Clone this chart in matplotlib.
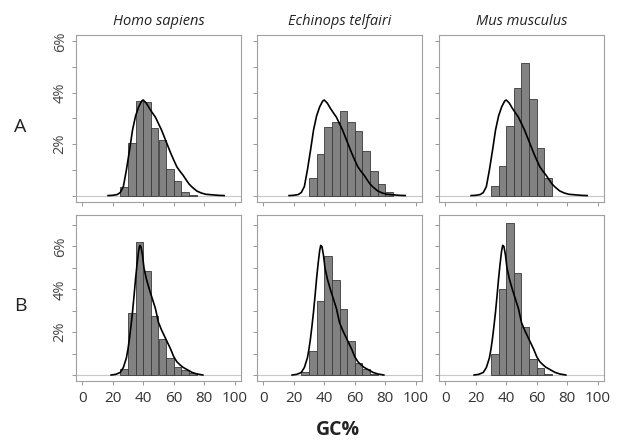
import numpy as np
import matplotlib.pyplot as plt

# species / rows
species = ["Homo sapiens", "Echinops telfairi", "Mus musculus"]
rows = ["A", "B"]
bin_width = 5

# histogram bars, % of genes per 5% GC bin (first bin left edge + heights)
hist_A_start = [25, 30, 30]
hist_A = [
    [0.34, 2.05, 3.69, 3.66, 2.62, 2.18, 1.02, 0.56, 0.12, 0.03],
    [0.68, 1.60, 2.65, 2.87, 3.29, 2.88, 2.52, 1.75, 0.95, 0.45, 0.12],
    [0.39, 1.14, 2.71, 4.18, 5.16, 3.77, 1.87, 0.70],
]
hist_B_start = [25, 25, 30]
hist_B = [
    [0.28, 2.88, 6.22, 4.85, 2.77, 1.66, 0.80, 0.37, 0.22, 0.08],
    [0.13, 1.14, 3.46, 5.57, 4.43, 3.06, 1.57, 0.57, 0.28, 0.05],
    [0.97, 4.00, 7.08, 4.74, 2.22, 0.74, 0.35, 0.05],
]

# reference density curve (same in each panel of a row)
curve_A_x = [17, 20, 23, 25, 27, 29, 31, 33, 35, 37, 39, 40, 42, 44, 46, 48, 50,
             52, 54, 56, 58, 60, 62, 64, 66, 68, 70, 72, 75, 78, 81, 85, 89, 93]
curve_A_y = [0, 0.01, 0.04, 0.12, 0.35, 1.0, 1.75, 2.55, 3.1, 3.45, 3.68, 3.72,
             3.6, 3.4, 3.22, 3.05, 2.8, 2.55, 2.25, 1.95, 1.65, 1.38, 1.12, 0.95,
             0.8, 0.62, 0.45, 0.33, 0.18, 0.1, 0.05, 0.03, 0.01, 0]
curve_B_x = [19, 22, 25, 27, 29, 30, 31, 32, 33, 34, 35, 36, 37, 37.7, 38.5, 39.5,
             40.5, 42, 44, 46, 48, 50, 52, 54, 56, 58, 60, 62, 64, 66, 68, 70, 72,
             75, 79]
curve_B_y = [0, 0.03, 0.12, 0.35, 0.8, 1.2, 1.7, 2.3, 2.95, 3.7, 4.5, 5.2, 5.8,
             6.05, 6.0, 5.6, 5.0, 4.5, 4.0, 3.55, 3.1, 2.45, 2.1, 1.8, 1.5, 1.2,
             0.85, 0.62, 0.48, 0.36, 0.28, 0.2, 0.12, 0.05, 0]

xticks = [0, 20, 40, 60, 80, 100]
ytick_labels = {2: "2%", 4: "4%", 6: "6%"}

plt.rcParams['font.family'] = ['Open Sans', 'DejaVu Sans']

W, H = 626, 448
fig = plt.figure(figsize=(W / 100, H / 100), dpi=100)

col_left = [76, 257, 439]
box_w = 165
row_top = [35, 215]
row_h = [167, 166]
ylims = [(-0.25, 6.25), (-0.28, 7.47)]
ymax_tick = [6, 7]

data = [(hist_A_start, hist_A, curve_A_x, curve_A_y),
        (hist_B_start, hist_B, curve_B_x, curve_B_y)]

for r in range(2):
    starts, hists, cx, cy = data[r]
    for c in range(3):
        ax = fig.add_axes([col_left[c] / W, 1 - (row_top[r] + row_h[r]) / H,
                           box_w / W, row_h[r] / H])
        h = hists[c]
        lefts = starts[c] + bin_width * np.arange(len(h))
        ax.axhline(0, color='#c8c8c8', lw=0.8, zorder=1)
        ax.bar(lefts, h, width=bin_width, align='edge', color='#828282',
               edgecolor='#3a3a3a', linewidth=0.6, zorder=2)
        ax.plot(cx, cy, color='black', lw=1.2, zorder=3)
        ax.set_xlim(-4, 104)
        ax.set_ylim(*ylims[r])
        ax.set_xticks(xticks)
        yt = list(range(0, ymax_tick[r] + 1))
        ax.set_yticks(yt)
        if c == 0:
            ax.set_yticklabels([ytick_labels.get(v, "") for v in yt],
                               rotation=90, va='center', fontsize=10.5,
                               color='#444444')
        else:
            ax.set_yticklabels([])
        if r == 1:
            ax.set_xticklabels([str(v) for v in xticks], fontsize=11,
                               color='#333333')
        else:
            ax.set_xticklabels([])
        ax.tick_params(axis='x', length=3, width=0.6, color='#888888', pad=4)
        ax.tick_params(axis='y', length=3, width=0.6, color='#888888', pad=3)
        for s in ax.spines.values():
            s.set_color('#a0a0a0')
            s.set_linewidth(0.8)
        if r == 0:
            ax.set_title(species[c], style='italic', fontsize=10.5,
                         color='#222222', pad=7)

for r, lab in enumerate(rows):
    yc = row_top[r] + row_h[r] * 0.55
    fig.text(20 / W, 1 - yc / H, lab, fontsize=14, ha='center', va='center',
             color='#222222')

fig.text(338 / W, 1 - 430 / H, "GC%", fontsize=14, fontweight='bold',
         ha='center', va='center', color='#222222')

fig.savefig("out.png", dpi=100)
